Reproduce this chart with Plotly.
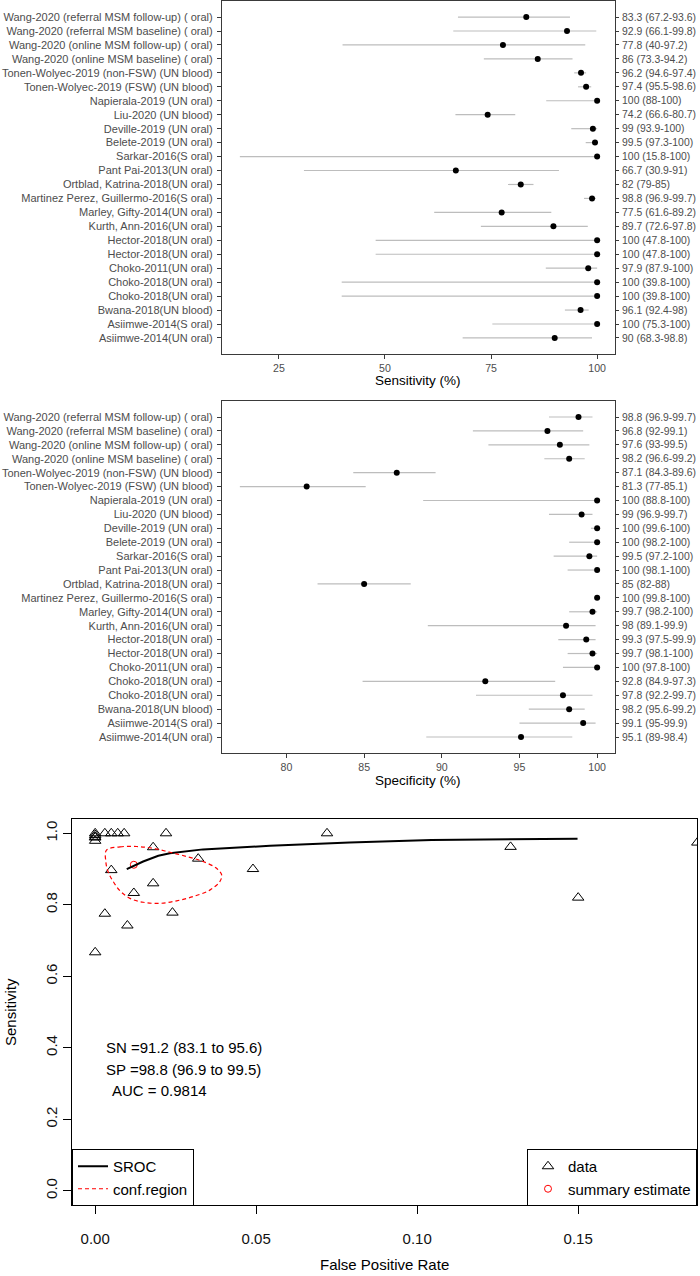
import plotly.graph_objects as go

W, H = 700, 1276
FONT = "Liberation Sans, Arial, sans-serif"

studies = [
    "Wang-2020 (referral MSM follow-up) ( oral)",
    "Wang-2020 (referral MSM baseline) ( oral)",
    "Wang-2020 (online MSM follow-up) ( oral)",
    "Wang-2020 (online MSM baseline) ( oral)",
    "Tonen-Wolyec-2019 (non-FSW) (UN blood)",
    "Tonen-Wolyec-2019 (FSW) (UN blood)",
    "Napierala-2019 (UN oral)",
    "Liu-2020 (UN blood)",
    "Deville-2019 (UN oral)",
    "Belete-2019 (UN oral)",
    "Sarkar-2016(S oral)",
    "Pant Pai-2013(UN oral)",
    "Ortblad, Katrina-2018(UN oral)",
    "Martinez Perez, Guillermo-2016(S oral)",
    "Marley, Gifty-2014(UN oral)",
    "Kurth, Ann-2016(UN oral)",
    "Hector-2018(UN oral)",
    "Hector-2018(UN oral)",
    "Choko-2011(UN oral)",
    "Choko-2018(UN oral)",
    "Choko-2018(UN oral)",
    "Bwana-2018(UN blood)",
    "Asiimwe-2014(S oral)",
    "Asiimwe-2014(UN oral)",
]

sens = [83.3, 92.9, 77.8, 86, 96.2, 97.4, 100, 74.2, 99, 99.5, 100, 66.7,
        82, 98.8, 77.5, 89.7, 100, 100, 97.9, 100, 100, 96.1, 100, 90]
sens_lo = [67.2, 66.1, 40, 73.3, 94.6, 95.5, 88, 66.6, 93.9, 97.3, 15.8, 30.9,
           79, 96.9, 61.6, 72.6, 47.8, 47.8, 87.9, 39.8, 39.8, 92.4, 75.3, 68.3]
sens_hi = [93.6, 99.8, 97.2, 94.2, 97.4, 98.6, 100, 80.7, 100, 100, 100, 91,
           85, 99.7, 89.2, 97.8, 100, 100, 100, 100, 100, 98, 100, 98.8]

spec = [98.8, 96.8, 97.6, 98.2, 87.1, 81.3, 100, 99, 100, 100, 99.5, 100,
        85, 100, 99.7, 98, 99.3, 99.7, 100, 92.8, 97.8, 98.2, 99.1, 95.1]
spec_lo = [96.9, 92, 93, 96.6, 84.3, 77, 88.8, 96.9, 99.6, 98.2, 97.2, 98.1,
           82, 99.8, 98.2, 89.1, 97.5, 98.1, 97.8, 84.9, 92.2, 95.6, 95, 89]
spec_hi = [99.7, 99.1, 99.5, 99.2, 89.6, 85.1, 100, 99.7, 100, 100, 100, 100,
           88, 100, 100, 99.9, 99.9, 100, 100, 97.3, 99.7, 99.2, 99.9, 98.4]

sens_ticks = [25, 50, 75, 100]
spec_ticks = [80, 85, 90, 95, 100]

# SROC panel
roc_fpr = [0.012, 0.032, 0.024, 0.018, 0.129, 0.187, 0.0, 0.010, 0.0, 0.0, 0.005, 0.0,
           0.150, 0.0, 0.003, 0.005, 0.007, 0.003, 0.0, 0.072, 0.022, 0.018, 0.009, 0.049]
roc_sens = [0.833, 0.929, 0.778, 0.860, 0.962, 0.974, 1.0, 0.742, 0.990, 0.995, 1.0, 0.667,
            0.820, 0.988, 0.775, 0.897, 1.0, 1.0, 0.979, 1.0, 1.0, 0.961, 1.0, 0.900]
sroc_fpr = [0.0098, 0.0149, 0.0196, 0.0232, 0.0335, 0.0439, 0.0543, 0.079, 0.1045, 0.1498]
sroc_sens = [0.900, 0.921, 0.937, 0.944, 0.955, 0.961, 0.965, 0.974, 0.981, 0.985]
conf_fpr = [0.0035, 0.0077, 0.0129, 0.0180, 0.0232, 0.0284, 0.0335, 0.0377, 0.0393, 0.0387,
            0.0356, 0.0304, 0.0253, 0.0201, 0.0149, 0.0108, 0.0077, 0.0056, 0.0040, 0.0033, 0.0035]
conf_sens = [0.953, 0.962, 0.963, 0.958, 0.947, 0.935, 0.921, 0.902, 0.883, 0.865,
             0.841, 0.823, 0.811, 0.804, 0.807, 0.818, 0.839, 0.865, 0.893, 0.921, 0.953]
summary_fpr = [0.012]
summary_sens = [0.912]
roc_text = ["SN =91.2 (83.1 to 95.6)", "SP =98.8 (96.9 to 99.5)", "AUC = 0.9814"]


def px(v):
    return v / W


def py(v):
    return 1 - v / H


n = len(studies)
rows = list(range(n))
row_range = [n - 1 + 1.15, -1.15]

fig = go.Figure()


def forest(est, lo, hi, xa, ya, ya2):
    fig.add_trace(go.Scatter(
        x=est, y=rows, xaxis=xa, yaxis=ya, mode="markers",
        marker=dict(color="black", size=6),
        error_x=dict(type="data", symmetric=False,
                     array=[h - e for e, h in zip(est, hi)],
                     arrayminus=[e - l for e, l in zip(est, lo)],
                     color="#BDBDBD", thickness=1.2, width=0),
        showlegend=False, hoverinfo="skip"))
    # invisible trace so the right-hand label axis is drawn
    fig.add_trace(go.Scatter(x=est, y=rows, xaxis=xa, yaxis=ya2, mode="markers",
                             marker=dict(opacity=0), showlegend=False, hoverinfo="skip"))


forest(sens, sens_lo, sens_hi, "x", "y", "y2")
forest(spec, spec_lo, spec_hi, "x2", "y3", "y4")

# SROC panel
fig.add_trace(go.Scatter(x=roc_fpr, y=roc_sens, xaxis="x3", yaxis="y5", mode="markers",
                         marker=dict(symbol="triangle-up-open", size=10, color="black",
                                     line=dict(width=1)),
                         name="data", legend="legend2"))
fig.add_trace(go.Scatter(x=summary_fpr, y=summary_sens, xaxis="x3", yaxis="y5", mode="markers",
                         marker=dict(symbol="circle-open", size=7, color="red",
                                     line=dict(width=1)),
                         name="summary estimate", legend="legend2"))
fig.add_trace(go.Scatter(x=sroc_fpr, y=sroc_sens, xaxis="x3", yaxis="y5", mode="lines",
                         line=dict(color="black", width=2),
                         name="SROC", legend="legend"))
fig.add_trace(go.Scatter(x=conf_fpr, y=conf_sens, xaxis="x3", yaxis="y5", mode="lines",
                         line=dict(color="red", width=1.2, dash="4px,3px", shape="spline"),
                         name="conf.region", legend="legend"))

lab_font = dict(family=FONT, size=11, color="#4D4D4D")
right_font = dict(family=FONT, size=10.4, color="#4D4D4D")
bcol = "#3A3A3A"

forest_x = dict(showline=True, mirror=True, linecolor=bcol, linewidth=1.2,
                ticks="outside", ticklen=4, tickcolor=bcol,
                tickfont=dict(family=FONT, size=10.6, color="#4D4D4D"),
                showgrid=False, zeroline=False, ticklabelstandoff=0)
forest_y = dict(showline=True, mirror=True, linecolor=bcol, linewidth=1.2,
                ticks="outside", ticklen=4, tickcolor=bcol, tickfont=lab_font,
                showgrid=False, zeroline=False, range=row_range,
                tickvals=rows, ticktext=studies, ticklabelstandoff=2)
right_y = dict(side="right", showline=False, ticks="outside", ticklen=3, tickcolor=bcol,
               tickfont=right_font, showgrid=False, zeroline=False, range=row_range,
               tickvals=rows, ticklabelstandoff=1)

xdom = [px(222), px(615)]

sens_lab = [f"{e:g} ({l:g}-{h:g})" for e, l, h in zip(sens, sens_lo, sens_hi)]
spec_lab = [f"{e:g} ({l:g}-{h:g})" for e, l, h in zip(spec, spec_lo, spec_hi)]

roc_tick = dict(family=FONT, size=15, color="#111111")

fig.update_layout(
    width=W, height=H, template="none",
    margin=dict(l=0, r=0, t=0, b=0),
    paper_bgcolor="white", plot_bgcolor="white",
    font=dict(family=FONT),
    xaxis=dict(forest_x, domain=xdom, anchor="y", range=[11.59, 104.21], tickvals=sens_ticks),
    yaxis=dict(forest_y, domain=[py(354), py(1)], anchor="x"),
    yaxis2=dict(right_y, overlaying="y", anchor="x", ticktext=sens_lab),
    xaxis2=dict(forest_x, domain=xdom, anchor="y3", range=[75.85, 101.15], tickvals=spec_ticks),
    yaxis3=dict(forest_y, domain=[py(753), py(401)], anchor="x2"),
    yaxis4=dict(right_y, overlaying="y3", anchor="x2", ticktext=spec_lab),
    xaxis3=dict(domain=[px(72), px(697)], anchor="y5", range=[-0.0072, 0.1869],
                showline=True, mirror=True, linecolor="black", linewidth=1,
                ticks="outside", ticklen=8, tickcolor="black",
                tickvals=[0, 0.05, 0.10, 0.15], tickformat=".2f",
                tickfont=roc_tick, showgrid=False, zeroline=False, ticklabelstandoff=12),
    yaxis5=dict(domain=[py(1205), py(819)], anchor="x3", range=[-0.04, 1.04],
                showline=True, mirror=True, linecolor="black", linewidth=1,
                ticks="outside", ticklen=8, tickcolor="black",
                tickvals=[0, 0.2, 0.4, 0.6, 0.8, 1.0], tickformat=".1f", tickangle=-90,
                tickfont=roc_tick, showgrid=False, zeroline=False, ticklabelstandoff=0),
    legend=dict(x=px(72), y=py(1149), xanchor="left", yanchor="top",
                bordercolor="black", borderwidth=1, bgcolor="white", itemwidth=30,
                font=dict(family=FONT, size=15, color="black")),
    legend2=dict(x=px(697), y=py(1149), xanchor="right", yanchor="top",
                 bordercolor="black", borderwidth=1, bgcolor="white", itemwidth=30,
                 font=dict(family=FONT, size=15, color="black")),
)

mid = dict(xref="paper", yref="paper", showarrow=False, xanchor="center", yanchor="middle")
ann = [
    dict(mid, text="Sensitivity (%)", x=px(418), y=py(381),
         font=dict(family=FONT, size=13.5, color="black")),
    dict(mid, text="Specificity (%)", x=px(418), y=py(781),
         font=dict(family=FONT, size=13.5, color="black")),
    dict(mid, text="False Positive Rate", x=px(384), y=py(1264),
         font=dict(family=FONT, size=15, color="black")),
    dict(mid, text="Sensitivity", x=px(10), y=py(1012), textangle=-90,
         font=dict(family=FONT, size=15, color="black")),
]
for t, xv, yv in zip(roc_text, [0.0027, 0.0027, 0.0046], [0.400, 0.339, 0.281]):
    ann.append(dict(text=t, x=xv, y=yv, xref="x3", yref="y5", xanchor="left",
                    yanchor="middle", showarrow=False,
                    font=dict(family=FONT, size=15, color="black")))
fig.update_layout(annotations=ann)

fig.write_html("out.html", config={"displayModeBar": False},
               post_script="document.body.style.margin='0';"
                           "document.body.style.overflow='hidden';")
